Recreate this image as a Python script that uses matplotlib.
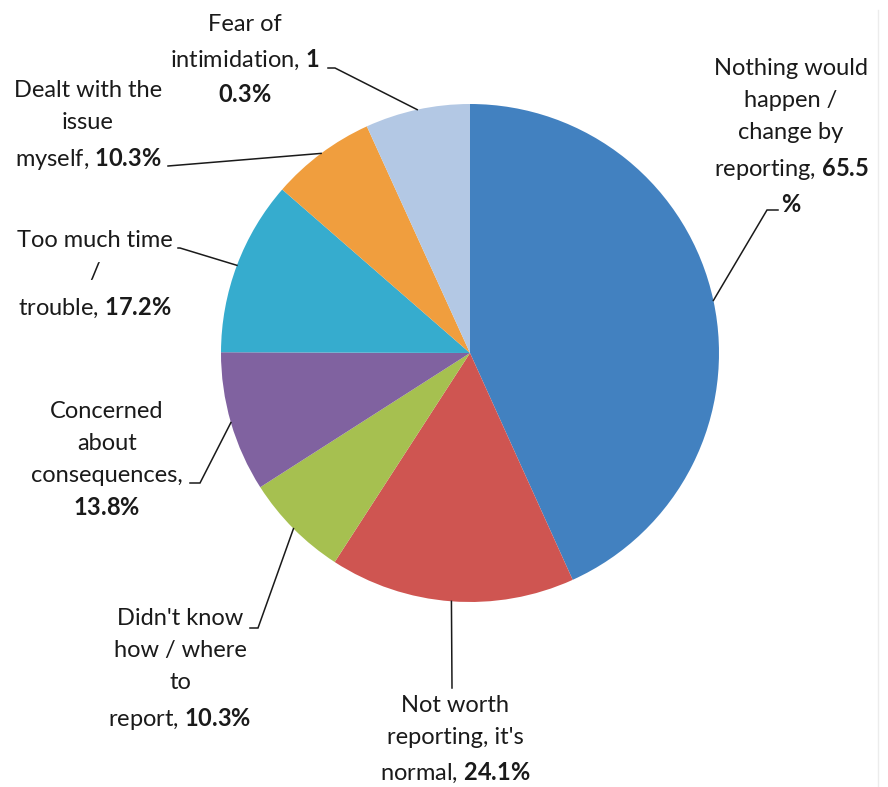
import numpy as np
import matplotlib
matplotlib.use('Agg')
import matplotlib.pyplot as plt

plt.rcParams['font.family'] = ['Lato', 'DejaVu Sans']
plt.rcParams['mathtext.fontset'] = 'custom'
plt.rcParams['mathtext.rm'] = 'Lato'
plt.rcParams['mathtext.bf'] = 'Lato:bold'

# Reasons for not reporting (% of respondents, multiple answers)
reasons = ['Nothing would happen / change by reporting',
           "Not worth reporting, it's normal",
           "Didn't know how / where to report",
           'Concerned about consequences',
           'Too much time / trouble',
           'Dealt with the issue myself',
           'Fear of intimidation']
values = [65.5, 24.1, 10.3, 13.8, 17.2, 10.3, 10.3]
colors = ['#4281C0', '#CF5551', '#A6C050', '#8062A0', '#36ACCE', '#F09E3E', '#B3C8E4']

# label text as it appears on the chart
labels = ['Nothing would\nhappen /\nchange by\nreporting, $\\mathbf{65.5}$\n$\\mathbf{\\%}$',
          "Not worth\nreporting, it's\nnormal, $\\mathbf{24.1\\%}$",
          "Didn't know\nhow / where\nto\nreport, $\\mathbf{10.3\\%}$",
          'Concerned\nabout\nconsequences,\n$\\mathbf{13.8\\%}$',
          'Too much time\n/\ntrouble, $\\mathbf{17.2\\%}$',
          'Dealt with the\nissue\nmyself, $\\mathbf{10.3\\%}$',
          'Fear of\nintimidation, $\\mathbf{1}$\n$\\mathbf{0.3\\%}$']

# label layout in pixels: text centre, leader elbow, end of short horizontal
text_pos = [(791, 137), (455, 740), (180, 670), (107, 460), (95, 275), (88, 126), (245, 60)]
elbow = [(767, 210), (452, 688), (258, 628), (200, 483), (180, 248), (168, 166), (335, 68)]
hend = [(778, 210), (452, 688), (250, 628), (190, 483), (178, 248), (168, 166), (328, 68)]

W, H = 888, 787
cx, cy, R = 470, 353, 249

fig = plt.figure(figsize=(W / 100, H / 100), dpi=100)
ax = fig.add_axes([0, 0, 1, 1])

wedges, _ = ax.pie(values, colors=colors, startangle=90, counterclock=False,
                   radius=1, center=(0, 0), wedgeprops=dict(linewidth=0))
ax.set_xlim(-cx / R, (W - cx) / R)
ax.set_ylim(-(H - cy) / R, cy / R)
ax.set_aspect('equal')
ax.axis('off')


def px(p):
    return ((p[0] - cx) / R, (cy - p[1]) / R)


for w, lab, tp, el, he in zip(wedges, labels, text_pos, elbow, hend):
    mid = np.deg2rad((w.theta1 + w.theta2) / 2)
    a = (np.cos(mid), np.sin(mid))
    e = px(el)
    h = px(he)
    ax.plot([a[0], e[0], h[0]], [a[1], e[1], h[1]], color='#1a1a1a', lw=1.1,
            solid_joinstyle='miter')
    t = px(tp)
    ax.text(t[0], t[1], lab, ha='center', va='center', multialignment='center',
            fontsize=17, color='#1a1a1a', linespacing=1.65)

# faint chart border on the right
ax.plot([px((878, 10))[0]] * 2, [px((878, 10))[1], px((878, 787))[1]],
        color='#ececec', lw=1)

fig.savefig('out.png', dpi=100)
